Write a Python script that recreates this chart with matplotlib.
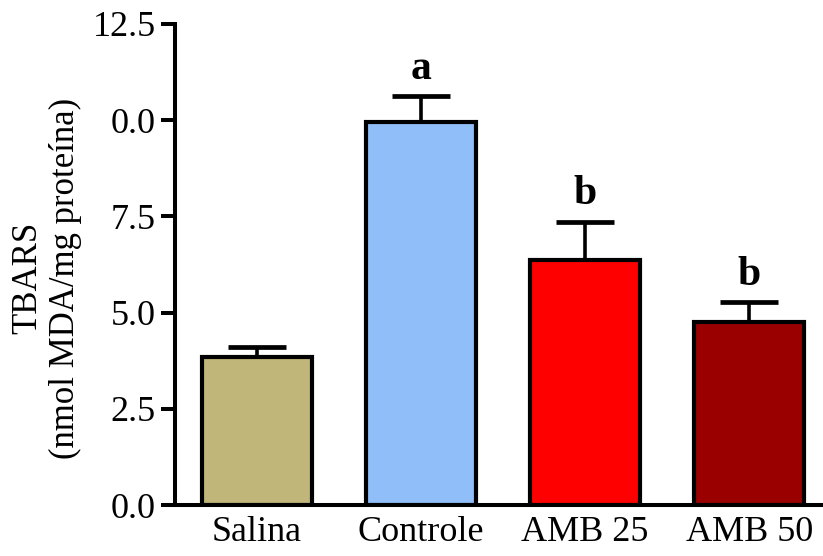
import matplotlib
matplotlib.use("Agg")
import matplotlib.pyplot as plt

groups = ["Salina", "Controle", "AMB 25", "AMB 50"]
means = [3.85, 9.96, 6.37, 4.75]
sems = [0.26, 0.67, 0.99, 0.52]
letters = ["", "a", "b", "b"]
colors = ["#C0B67A", "#90BEF8", "#FF0000", "#9B0000"]
yticks = [0.0, 2.5, 5.0, 7.5, 10.0, 12.5]
ytick_labels = ["0.0", "2.5", "5.0", "7.5", "0.0", "12.5"]

plt.rcParams["font.family"] = ["Liberation Serif", "DejaVu Serif"]

fig = plt.figure(figsize=(8.23, 5.56), dpi=100)
ax = fig.add_axes([175 / 823, 51 / 556, 648 / 823, 481 / 556])

x = list(range(len(groups)))
# upper error only: hide the lower cap that would sit on the bar top
_, caps, _ = ax.errorbar(x, means, yerr=[[0] * len(sems), sems], fmt="none",
                         ecolor="black", elinewidth=2.6, capsize=21,
                         capthick=3.4, zorder=1)
caps[0].set_visible(False)
ax.bar(x, means, width=0.67, color=colors, edgecolor="black", linewidth=3.0, zorder=2)

for xi, m, s, lab in zip(x, means, sems, letters):
    if lab:
        ax.annotate(lab, (xi, m + s), xytext=(0, 6), textcoords="offset points",
                    ha="center", va="bottom", fontsize=30, fontweight="bold")

ax.set_xlim(-0.5, 3.45)
ax.set_ylim(0, 12.5)
ax.set_yticks(yticks, ytick_labels)
ax.set_xticks(x, groups)

for side in ("top", "right"):
    ax.spines[side].set_visible(False)
for side in ("left", "bottom"):
    ax.spines[side].set_linewidth(2.9)
    ax.spines[side].set_capstyle("projecting")

ax.tick_params(axis="y", direction="out", length=10, width=2.9, pad=4, labelsize=26)
ax.tick_params(axis="x", length=0, pad=8, labelsize=26)

ax.set_ylabel("TBARS\n(nmol MDA/mg proteína)", fontsize=25, linespacing=1.2)
ax.yaxis.label.set_va("center")
ax.yaxis.set_label_coords(-0.198, 0.472)
ax.patch.set_visible(False)

fig.savefig("out.png", dpi=100)
plt.close(fig)
